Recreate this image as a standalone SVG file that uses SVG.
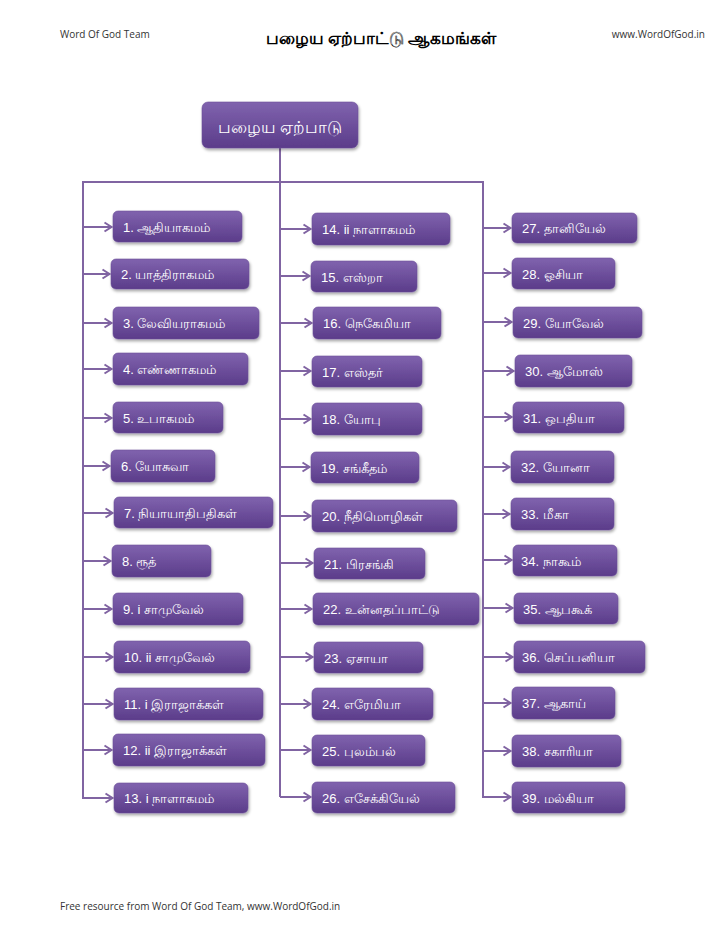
<svg xmlns="http://www.w3.org/2000/svg" width="728" height="942" viewBox="0 0 728 942">
<defs>
<linearGradient id="g" x1="0" y1="0" x2="0" y2="1">
<stop offset="0" stop-color="#8063ae"/>
<stop offset="1" stop-color="#5b3c8a"/>
</linearGradient>
<filter id="sh" x="-10%" y="-20%" width="125%" height="160%">
<feDropShadow dx="1" dy="2" stdDeviation="1.8" flood-color="#000" flood-opacity="0.35"/>
</filter>
<marker id="ar" markerWidth="12" markerHeight="12" refX="9" refY="6" orient="auto" markerUnits="userSpaceOnUse">
<path d="M2.5,1.5 L9.5,6 L2.5,10.5" fill="none" stroke="#8064a2" stroke-width="2"/>
</marker>
<style>
.n rect{fill:url(#g);stroke:#6b4f98;stroke-width:0.6;filter:url(#sh)}
.n text{fill:#fff;font-family:"Liberation Sans","Noto Sans",sans-serif;font-size:13px}
.c line{stroke:#8064a2;stroke-width:2}
.c .a{marker-end:url(#ar)}
.h{font-family:"Open Sans","Liberation Sans",sans-serif;font-size:10px;fill:#333}
</style>
</defs>
<rect width="728" height="942" fill="#fff"/>
<text class="h" x="60" y="38">Word Of God Team</text>
<text x="381" y="44" text-anchor="middle" font-family="'Noto Sans','Liberation Serif',serif" font-size="17" font-weight="bold" fill="#000">பழைய ஏற்பாட்டு ஆகமங்கள்</text>
<text class="h" x="705" y="38" text-anchor="end">www.WordOfGod.in</text>
<text class="h" x="60" y="910">Free resource from Word Of God Team, www.WordOfGod.in</text>

<g class="c" id="connectors">
<line x1="280" y1="148" x2="280" y2="797"/>
<line x1="82" y1="182" x2="484" y2="182"/>
<line x1="83" y1="181" x2="83" y2="799"/>
<line x1="483" y1="181" x2="483" y2="798"/>
<line class="a" x1="83" y1="227" x2="111" y2="227"/>
<line class="a" x1="83" y1="274" x2="109" y2="274"/>
<line class="a" x1="83" y1="323" x2="111" y2="323"/>
<line class="a" x1="83" y1="369" x2="111" y2="369"/>
<line class="a" x1="83" y1="418" x2="111" y2="418"/>
<line class="a" x1="83" y1="466" x2="109" y2="466"/>
<line class="a" x1="83" y1="513" x2="112" y2="513"/>
<line class="a" x1="83" y1="561" x2="110" y2="561"/>
<line class="a" x1="83" y1="609" x2="111" y2="609"/>
<line class="a" x1="83" y1="657" x2="112" y2="657"/>
<line class="a" x1="83" y1="704" x2="112" y2="704"/>
<line class="a" x1="83" y1="750" x2="111" y2="750"/>
<line class="a" x1="83" y1="798" x2="112" y2="798"/>
<line class="a" x1="280" y1="229" x2="310" y2="229"/>
<line class="a" x1="280" y1="276" x2="309" y2="276"/>
<line class="a" x1="280" y1="323" x2="311" y2="323"/>
<line class="a" x1="280" y1="371" x2="310" y2="371"/>
<line class="a" x1="280" y1="419" x2="310" y2="419"/>
<line class="a" x1="280" y1="467" x2="309" y2="467"/>
<line class="a" x1="280" y1="516" x2="310" y2="516"/>
<line class="a" x1="280" y1="563" x2="312" y2="563"/>
<line class="a" x1="280" y1="609" x2="311" y2="609"/>
<line class="a" x1="280" y1="657" x2="312" y2="657"/>
<line class="a" x1="280" y1="704" x2="310" y2="704"/>
<line class="a" x1="280" y1="750" x2="310" y2="750"/>
<line class="a" x1="280" y1="797" x2="310" y2="797"/>
<line class="a" x1="483" y1="228" x2="510" y2="228"/>
<line class="a" x1="483" y1="273" x2="510" y2="273"/>
<line class="a" x1="483" y1="322" x2="511" y2="322"/>
<line class="a" x1="483" y1="371" x2="513" y2="371"/>
<line class="a" x1="483" y1="417" x2="511" y2="417"/>
<line class="a" x1="483" y1="467" x2="509" y2="467"/>
<line class="a" x1="483" y1="514" x2="509" y2="514"/>
<line class="a" x1="483" y1="560" x2="511" y2="560"/>
<line class="a" x1="483" y1="608" x2="512" y2="608"/>
<line class="a" x1="483" y1="657" x2="512" y2="657"/>
<line class="a" x1="483" y1="703" x2="510" y2="703"/>
<line class="a" x1="483" y1="751" x2="510" y2="751"/>
<line class="a" x1="483" y1="797" x2="510" y2="797"/>
</g>

<g class="n" id="root"><rect x="202" y="102" width="156" height="46" rx="6"/><text x="280" y="133" text-anchor="middle" style="font-size:17px">பழைய ஏற்பாடு</text></g>

<g class="n" id="n1"><rect x="113" y="211" width="129" height="31" rx="5"/><text x="123" y="232">1. ஆதியாகமம்</text></g>
<g class="n" id="n2"><rect x="111" y="259" width="138" height="30" rx="5"/><text x="121" y="279">2. யாத்திராகமம்</text></g>
<g class="n" id="n3"><rect x="113" y="307" width="146" height="32" rx="5"/><text x="123" y="328">3. லேவியராகமம்</text></g>
<g class="n" id="n4"><rect x="113" y="353" width="135" height="32" rx="5"/><text x="123" y="374">4. எண்ணாகமம்</text></g>
<g class="n" id="n5"><rect x="113" y="402" width="110" height="31" rx="5"/><text x="123" y="423">5. உபாகமம்</text></g>
<g class="n" id="n6"><rect x="111" y="450" width="104" height="32" rx="5"/><text x="121" y="471">6. யோசுவா</text></g>
<g class="n" id="n7"><rect x="114" y="497" width="159" height="31" rx="5"/><text x="124" y="518">7. நியாயாதிபதிகள்</text></g>
<g class="n" id="n8"><rect x="112" y="545" width="99" height="32" rx="5"/><text x="122" y="566">8. ரூத்</text></g>
<g class="n" id="n9"><rect x="113" y="593" width="130" height="32" rx="5"/><text x="123" y="614">9. i சாமுவேல்</text></g>
<g class="n" id="n10"><rect x="114" y="641" width="136" height="32" rx="5"/><text x="124" y="662">10. ii சாமுவேல்</text></g>
<g class="n" id="n11"><rect x="114" y="688" width="149" height="32" rx="5"/><text x="124" y="709">11. i இராஜாக்கள்</text></g>
<g class="n" id="n12"><rect x="113" y="734" width="152" height="32" rx="5"/><text x="123" y="755">12. ii இராஜாக்கள்</text></g>
<g class="n" id="n13"><rect x="114" y="783" width="134" height="30" rx="5"/><text x="124" y="803">13. i நாளாகமம்</text></g>

<g class="n" id="n14"><rect x="312" y="213" width="138" height="32" rx="5"/><text x="322" y="234">14. ii நாளாகமம்</text></g>
<g class="n" id="n15"><rect x="311" y="261" width="106" height="31" rx="5"/><text x="321" y="282">15. எஸ்றா</text></g>
<g class="n" id="n16"><rect x="313" y="307" width="128" height="32" rx="5"/><text x="323" y="328">16. நெகேமியா</text></g>
<g class="n" id="n17"><rect x="312" y="356" width="110" height="31" rx="5"/><text x="322" y="377">17. எஸ்தர்</text></g>
<g class="n" id="n18"><rect x="312" y="403" width="110" height="32" rx="5"/><text x="322" y="424">18. யோபு</text></g>
<g class="n" id="n19"><rect x="311" y="452" width="108" height="31" rx="5"/><text x="321" y="473">19. சங்கீதம்</text></g>
<g class="n" id="n20"><rect x="312" y="500" width="145" height="32" rx="5"/><text x="322" y="521">20. நீதிமொழிகள்</text></g>
<g class="n" id="n21"><rect x="314" y="548" width="111" height="31" rx="5"/><text x="324" y="569">21. பிரசங்கி</text></g>
<g class="n" id="n22"><rect x="313" y="593" width="166" height="32" rx="5"/><text x="323" y="614">22. உன்னதப்பாட்டு</text></g>
<g class="n" id="n23"><rect x="314" y="642" width="109" height="31" rx="5"/><text x="324" y="663">23. ஏசாயா</text></g>
<g class="n" id="n24"><rect x="312" y="688" width="121" height="32" rx="5"/><text x="322" y="709">24. எரேமியா</text></g>
<g class="n" id="n25"><rect x="312" y="735" width="113" height="31" rx="5"/><text x="322" y="756">25. புலம்பல்</text></g>
<g class="n" id="n26"><rect x="312" y="782" width="143" height="31" rx="5"/><text x="322" y="803">26. எசேக்கியேல்</text></g>

<g class="n" id="n27"><rect x="512" y="213" width="125" height="30" rx="5"/><text x="522" y="233">27. தானியேல்</text></g>
<g class="n" id="n28"><rect x="512" y="258" width="103" height="31" rx="5"/><text x="522" y="279">28. ஓசியா</text></g>
<g class="n" id="n29"><rect x="513" y="307" width="129" height="31" rx="5"/><text x="523" y="328">29. யோவேல்</text></g>
<g class="n" id="n30"><rect x="515" y="355" width="117" height="32" rx="5"/><text x="525" y="376">30. ஆமோஸ்</text></g>
<g class="n" id="n31"><rect x="513" y="402" width="111" height="31" rx="5"/><text x="523" y="423">31. ஒபதியா</text></g>
<g class="n" id="n32"><rect x="511" y="451" width="103" height="32" rx="5"/><text x="521" y="472">32. யோனா</text></g>
<g class="n" id="n33"><rect x="511" y="498" width="103" height="32" rx="5"/><text x="521" y="519">33. மீகா</text></g>
<g class="n" id="n34"><rect x="513" y="545" width="104" height="31" rx="5"/><text x="521" y="566">34. நாகூம்</text></g>
<g class="n" id="n35"><rect x="514" y="593" width="104" height="31" rx="5"/><text x="523" y="614">35. ஆபகூக்</text></g>
<g class="n" id="n36"><rect x="514" y="641" width="131" height="32" rx="5"/><text x="522" y="662">36. செப்பனியா</text></g>
<g class="n" id="n37"><rect x="512" y="687" width="103" height="32" rx="5"/><text x="522" y="708">37. ஆகாய்</text></g>
<g class="n" id="n38"><rect x="512" y="735" width="109" height="32" rx="5"/><text x="522" y="756">38. சகாரியா</text></g>
<g class="n" id="n39"><rect x="512" y="782" width="113" height="31" rx="5"/><text x="522" y="803">39. மல்கியா</text></g>
</svg>
